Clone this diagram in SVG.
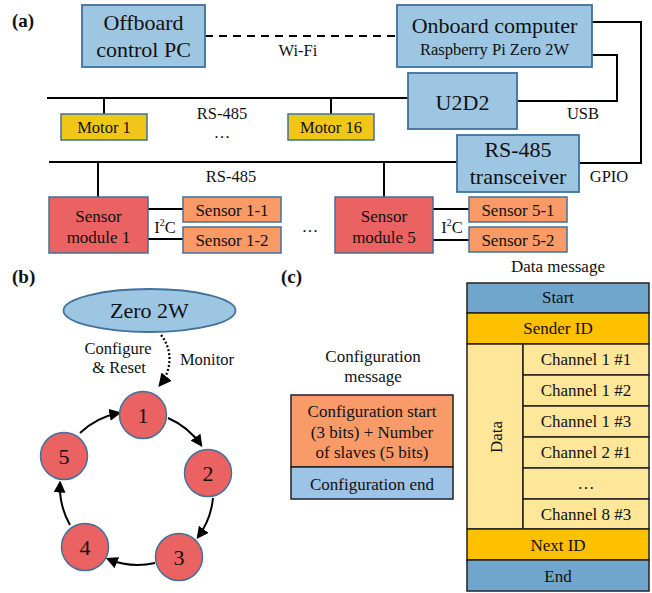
<svg xmlns="http://www.w3.org/2000/svg" width="652" height="593" viewBox="0 0 652 593" font-family="'Liberation Serif', 'DejaVu Serif', serif">
<style>
text{font-family:'Liberation Serif','DejaVu Serif',serif;fill:#111;text-anchor:middle}
.big{font-size:22px}
.md{font-size:17px}
.sm{font-size:16.5px}
.lab{font-size:19px;font-weight:bold;text-anchor:start}
.lb{fill:#9dc6e2;stroke:#41719c;stroke-width:1.8}
.mot{fill:#f0c619;stroke:#41719c;stroke-width:1.5}
.red{fill:#eb6262;stroke:#41719c;stroke-width:1.5}
.org{fill:#fa9a66;stroke:#41719c;stroke-width:1.5}
.ln{fill:none;stroke:#000;stroke-width:2}
.cell{stroke:#222;stroke-width:1.5}
</style>
<defs>
<marker id="ah" viewBox="0 0 10 10" refX="8" refY="5" markerWidth="6" markerHeight="6" orient="auto">
<path d="M0,0 L10,5 L0,10 z" fill="#000"/>
</marker>
</defs>
<g id="labels">
<text class="lab" x="12" y="27">(a)</text>
<text class="lab" x="12" y="283">(b)</text>
<text class="lab" x="281" y="283">(c)</text>
</g>
<g id="connectors">
<line x1="205" y1="36" x2="397" y2="36" stroke="#000" stroke-width="2" stroke-dasharray="8,6"/>
<polyline class="ln" points="592,22 641,22 641,163 579,163"/>
<polyline class="ln" points="592,55 617,55 617,101 517,101"/>
<line class="ln" x1="47" y1="98" x2="408" y2="98"/>
<line class="ln" x1="104" y1="98" x2="104" y2="114"/>
<line class="ln" x1="331" y1="98" x2="331" y2="114"/>
<line class="ln" x1="49" y1="162" x2="457" y2="162"/>
<line class="ln" x1="98" y1="162" x2="98" y2="197"/>
<line class="ln" x1="384" y1="162" x2="384" y2="197"/>
<line class="ln" x1="148" y1="209" x2="183" y2="209"/>
<line class="ln" x1="148" y1="239" x2="183" y2="239"/>
<line class="ln" x1="433" y1="209" x2="469" y2="209"/>
<line class="ln" x1="433" y1="240" x2="469" y2="240"/>
<path d="M161,335 C173,350 172,370 160,385" fill="none" stroke="#000" stroke-width="2.2" stroke-dasharray="2,2" marker-end="url(#ah)"/>
<path class="ln" d="M168,418 A78,78 0 0 1 201,445" marker-end="url(#ah)"/>
<path class="ln" d="M213,498 A78,78 0 0 1 198,537" marker-end="url(#ah)"/>
<path class="ln" d="M155,563 A78,78 0 0 1 108,559" marker-end="url(#ah)"/>
<path class="ln" d="M70,525 A78,78 0 0 1 60,483" marker-end="url(#ah)"/>
<path class="ln" d="M80,433 A78,78 0 0 1 119,413" marker-end="url(#ah)"/>
<text class="sm" x="298" y="56">Wi-Fi</text>
<text class="sm" x="583" y="119">USB</text>
<text class="sm" x="609" y="182">GPIO</text>
<text class="sm" x="222" y="119">RS-485</text>
<text class="sm" x="222" y="138">…</text>
<text class="sm" x="231" y="182">RS-485</text>
<text class="sm" x="310" y="232">…</text>
<text class="sm" x="165" y="233">I<tspan font-size="10" dy="-7">2</tspan><tspan dy="7">C</tspan></text>
<text class="sm" x="452" y="233">I<tspan font-size="10" dy="-7">2</tspan><tspan dy="7">C</tspan></text>
<text class="sm" x="118" y="354">Configure</text>
<text class="sm" x="119" y="373">&amp; Reset</text>
<text class="sm" x="207" y="365">Monitor</text>
</g>
<g id="offboard"><rect class="lb" x="82" y="5" width="123" height="62"/><text class="big" x="143.5" y="30">Offboard</text><text class="big" x="143.5" y="57">control PC</text></g>
<g id="onboard"><rect class="lb" x="397" y="5" width="195" height="62"/><text class="big" x="494.5" y="33">Onboard computer</text><text x="494.5" y="55" style="font-size:16.5px">Raspberry Pi Zero 2W</text></g>
<g id="u2d2"><rect class="lb" x="408" y="73" width="109" height="56"/><text class="big" x="462.5" y="110">U2D2</text></g>
<g id="transceiver"><rect class="lb" x="457" y="135" width="122" height="57"/><text class="big" x="518" y="157">RS-485</text><text class="big" x="518" y="184">transceiver</text></g>
<g id="motor1"><rect class="mot" x="61" y="114" width="86" height="26"/><text class="sm" x="104" y="133">Motor 1</text></g>
<g id="motor16"><rect class="mot" x="288" y="114" width="86" height="26"/><text class="sm" x="331" y="133">Motor 16</text></g>
<g id="sensormodule1"><rect class="red" x="49" y="197" width="99" height="56"/><text class="md" x="98.5" y="222">Sensor</text><text class="md" x="98.5" y="243">module 1</text></g>
<g id="sensor1-1"><rect class="org" x="183" y="197" width="98" height="25"/><text class="md" x="232" y="216">Sensor 1-1</text></g>
<g id="sensor1-2"><rect class="org" x="183" y="227" width="98" height="26"/><text class="md" x="232" y="246">Sensor 1-2</text></g>
<g id="sensormodule5"><rect class="red" x="335" y="197" width="98" height="56"/><text class="md" x="384" y="222">Sensor</text><text class="md" x="384" y="243">module 5</text></g>
<g id="sensor5-1"><rect class="org" x="469" y="197" width="98" height="25"/><text class="md" x="518" y="216">Sensor 5-1</text></g>
<g id="sensor5-2"><rect class="org" x="469" y="227" width="98" height="25"/><text class="md" x="518" y="246">Sensor 5-2</text></g>
<g id="zero2w"><ellipse cx="149.5" cy="310.5" rx="86" ry="21.5" fill="#9dc6e2" stroke="#41719c" stroke-width="1.8"/><text class="big" x="149.5" y="318">Zero 2W</text></g>
<g id="node1"><circle class="red" cx="143" cy="415" r="23.5"/><text class="big" x="143" y="423">1</text></g>
<g id="node2"><circle class="red" cx="208" cy="473" r="23.5"/><text class="big" x="208" y="481">2</text></g>
<g id="node3"><circle class="red" cx="179" cy="557" r="23.5"/><text class="big" x="179" y="565">3</text></g>
<g id="node4"><circle class="red" cx="85" cy="547" r="23.5"/><text class="big" x="85" y="555">4</text></g>
<g id="node5"><circle class="red" cx="64" cy="456" r="23.5"/><text class="big" x="64" y="464">5</text></g>
<g id="configmessage">
<text class="md" x="373" y="362">Configuration</text>
<text class="md" x="373" y="382">message</text>
<rect class="cell" x="291" y="395" width="162" height="72" fill="#f99b69"/>
<rect class="cell" x="291" y="467" width="162" height="32" fill="#9dc3e6"/>
<text class="md" x="372" y="417">Configuration start</text>
<text class="md" x="372" y="438">(3 bits) + Number</text>
<text class="md" x="372" y="458">of slaves (5 bits)</text>
<text class="md" x="372" y="490">Configuration end</text>
</g>
<g id="datamessage">
<text class="md" x="558" y="272">Data message</text>
<rect class="cell" x="467" y="283" width="182" height="30" fill="#70a6cc"/>
<rect class="cell" x="467" y="313" width="182" height="31" fill="#ffc000"/>
<rect class="cell" x="467" y="344" width="56" height="185" fill="#ffe699"/>
<rect class="cell" x="523" y="344" width="126" height="31" fill="#ffe699"/>
<rect class="cell" x="523" y="375" width="126" height="31" fill="#ffe699"/>
<rect class="cell" x="523" y="406" width="126" height="31" fill="#ffe699"/>
<rect class="cell" x="523" y="437" width="126" height="31" fill="#ffe699"/>
<rect class="cell" x="523" y="468" width="126" height="31" fill="#ffe699"/>
<rect class="cell" x="523" y="499" width="126" height="30" fill="#ffe699"/>
<rect class="cell" x="467" y="529" width="182" height="31" fill="#ffc000"/>
<rect class="cell" x="467" y="560" width="182" height="31" fill="#70a6cc"/>
<text class="md" x="558" y="303">Start</text>
<text class="md" x="558" y="334">Sender ID</text>
<text class="md" x="586" y="365">Channel 1 #1</text>
<text class="md" x="586" y="396">Channel 1 #2</text>
<text class="md" x="586" y="427">Channel 1 #3</text>
<text class="md" x="586" y="458">Channel 2 #1</text>
<text class="md" x="586" y="489">…</text>
<text class="md" x="586" y="520">Channel 8 #3</text>
<text class="md" x="558" y="551">Next ID</text>
<text class="md" x="558" y="582">End</text>
<text class="md" transform="translate(502,437) rotate(-90)">Data</text>
</g>
</svg>
